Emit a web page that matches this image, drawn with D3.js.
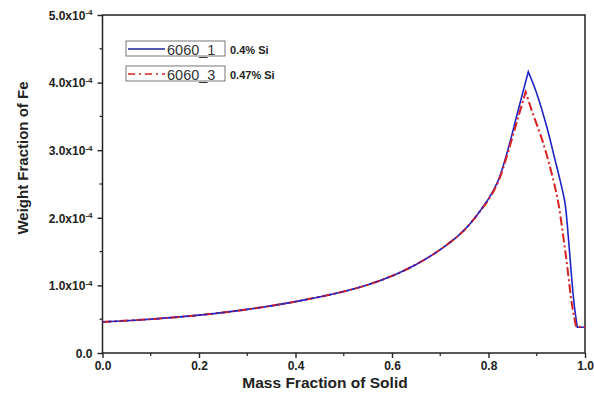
<!DOCTYPE html>
<html><head><meta charset="utf-8">
<script src="https://cdn.jsdelivr.net/npm/d3@7"></script>
<style>body{margin:0;background:#fff}svg{display:block}</style>
</head><body><svg id="c" width="594" height="396"></svg>
<script>
// Data (y values in units of 1e-4)
const xTicks = [0, 0.2, 0.4, 0.6, 0.8, 1.0];
const xTickLabels = ["0.0", "0.2", "0.4", "0.6", "0.8", "1.0"];
const yTicks = [0, 1, 2, 3, 4, 5];
const yTickMantissa = ["0.0", "1.0", "2.0", "3.0", "4.0", "5.0"];
const seriesNames = ["6060_1", "6060_3"];
const seriesNotes = ["0.4% Si", "0.47% Si"];
const s1x = [0, 0.1, 0.2, 0.3, 0.4, 0.5, 0.55, 0.6, 0.65, 0.7, 0.75, 0.8, 0.82, 0.84, 0.86, 0.8825, 0.900, 0.9206, 0.9378, 0.9482, 0.9585, 0.9654, 0.971, 0.9772, 0.984, 1.0];
const s1y = [0.46, 0.50, 0.56, 0.645, 0.76, 0.91, 1.01, 1.14, 1.31, 1.53, 1.82, 2.28, 2.55, 3.0, 3.55, 4.16, 3.84, 3.35, 2.86, 2.56, 2.22, 1.72, 1.23, 0.74, 0.38, 0.38];
const s2x = [0, 0.1, 0.2, 0.3, 0.4, 0.5, 0.55, 0.6, 0.65, 0.7, 0.75, 0.8, 0.82, 0.84, 0.86, 0.877, 0.8895, 0.9136, 0.9343, 0.9447, 0.955, 0.9641, 0.9724, 0.9813, 1.0];
const s2y = [0.46, 0.50, 0.56, 0.645, 0.76, 0.91, 1.01, 1.14, 1.31, 1.53, 1.82, 2.27, 2.53, 2.96, 3.45, 3.86, 3.59, 3.10, 2.56, 2.22, 1.72, 1.23, 0.74, 0.39, 0.38];

const svg = d3.select("#c");
const L = 102.5, R = 585, T = 15, B = 353;
const x = d3.scaleLinear().domain([0, 1]).range([L, R]);
const y = d3.scaleLinear().domain([0, 5]).range([B, T]);
const font = "'Liberation Sans', Arial, sans-serif";

// minor ticks
const xMinor = d3.range(0.1, 1, 0.2);
const yMinor = d3.range(0.5, 5, 1);
svg.append("g").selectAll("line").data(xMinor).join("line")
  .attr("x1", d => x(d)).attr("x2", d => x(d)).attr("y1", B).attr("y2", B + 3)
  .attr("stroke", "#222").attr("stroke-width", 1.2);
svg.append("g").selectAll("line").data(yMinor).join("line")
  .attr("y1", d => y(d)).attr("y2", d => y(d)).attr("x1", L).attr("x2", L - 3)
  .attr("stroke", "#222").attr("stroke-width", 1.2);

// x axis
const xAxis = d3.axisBottom(x).tickValues(xTicks).tickSize(5).tickPadding(3)
  .tickFormat((d, i) => xTickLabels[i]);
const gx = svg.append("g").attr("transform", `translate(0,${B})`).call(xAxis);
gx.select(".domain").remove();
gx.selectAll(".tick line").attr("stroke", "#222").attr("stroke-width", 1.4);
gx.selectAll("text").attr("font-family", font).attr("font-weight", "bold")
  .attr("font-size", 12).attr("fill", "#222");

// y axis
const yAxis = d3.axisLeft(y).tickValues(yTicks).tickSize(5).tickPadding(4).tickFormat("");
const gy = svg.append("g").attr("transform", `translate(${L},0)`).call(yAxis);
gy.select(".domain").remove();
gy.selectAll(".tick line").attr("stroke", "#222").attr("stroke-width", 1.4);
gy.selectAll(".tick").each(function(d, i) {
  const t = d3.select(this).append("text")
    .attr("x", -10).attr("dy", "0.35em").attr("text-anchor", "end")
    .attr("font-family", font).attr("font-weight", "bold").attr("font-size", 12).attr("fill", "#222");
  if (d === 0) { t.text(yTickMantissa[i]); }
  else {
    t.append("tspan").text(yTickMantissa[i] + "x10");
    t.append("tspan").attr("font-size", 8).attr("dy", "-0.55em").text("-4");
  }
});

// frame
svg.append("rect").attr("x", L).attr("y", T).attr("width", R - L).attr("height", B - T)
  .attr("fill", "none").attr("stroke", "#222").attr("stroke-width", 1.5);

// lines: smooth rise and fall separately, keep sharp peak
const seg = d3.line().x(d => x(d[0])).y(d => y(d[1])).curve(d3.curveCatmullRom.alpha(0.5));
function pathOf(data) {
  let pk = 0;
  data.forEach((d, i) => { if (d[1] > data[pk][1]) pk = i; });
  const rise = data.slice(0, pk + 1);
  const fall = data.slice(pk, data.length - 1);
  const tail = data.slice(data.length - 2);
  return seg(rise) + seg(fall).replace(/^M[^CLc]*/, m => "L" + m.slice(1)) + "L" + x(tail[1][0]) + "," + y(tail[1][1]);
}
const d1 = s1x.map((v, i) => [v, s1y[i]]);
const d2 = s2x.map((v, i) => [v, s2y[i]]);
const blue = "#1e22c8", red = "#d82020";
svg.append("path").attr("d", pathOf(d1)).attr("fill", "none")
  .attr("stroke", blue).attr("stroke-width", 1.6).attr("stroke-linejoin", "miter");
svg.append("path").attr("d", pathOf(d2)).attr("fill", "none")
  .attr("stroke", red).attr("stroke-width", 2).attr("stroke-dasharray", "9,3,2,3");
// blue shows through on the shared rising part
svg.append("path").attr("d", seg(d1.filter(d => d[0] <= 0.8))).attr("fill", "none")
  .attr("stroke", blue).attr("stroke-width", 1.2).attr("stroke-dasharray", "3,3");

// legend
const lg = svg.append("g");
const boxY = [41, 66];
[0, 1].forEach(i => {
  const g = lg.append("g").attr("transform", `translate(126,${boxY[i]})`);
  g.append("rect").attr("width", 99).attr("height", 15).attr("fill", "#fff")
    .attr("stroke", "#555").attr("stroke-width", 0.8);
  g.append("line").attr("x1", 2).attr("x2", 39).attr("y1", 8).attr("y2", 8)
    .attr("stroke", i === 0 ? "#1e22a0" : red).attr("stroke-width", 1.6)
    .attr("stroke-dasharray", i === 0 ? null : "7,4,2,4");
  g.append("text").attr("x", 41).attr("y", 13.5).attr("font-family", font)
    .attr("font-size", 14.5).attr("fill", "#333").text(seriesNames[i]);
  g.append("text").attr("x", 104).attr("y", 12.5).attr("font-family", font)
    .attr("font-weight", "bold").attr("font-size", 11).attr("fill", "#222").text(seriesNotes[i]);
});

// axis titles
svg.append("text").attr("x", 325).attr("y", 388).attr("text-anchor", "middle")
  .attr("font-family", font).attr("font-weight", "bold").attr("font-size", 15.5)
  .attr("fill", "#222").text("Mass Fraction of Solid");
svg.append("text").attr("transform", "translate(28,158) rotate(-90)").attr("text-anchor", "middle")
  .attr("font-family", font).attr("font-weight", "bold").attr("font-size", 15)
  .attr("fill", "#222").text("Weight Fraction of Fe");
</script></body></html>
